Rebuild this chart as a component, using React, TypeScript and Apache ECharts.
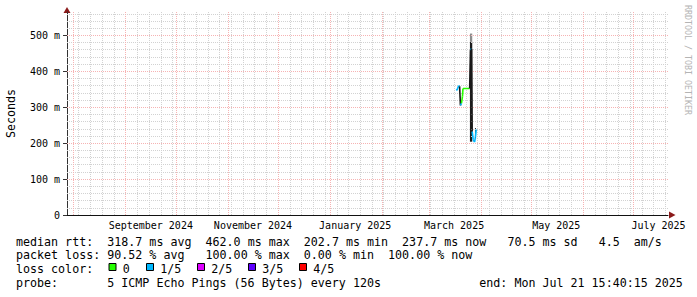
import React, { useEffect, useRef } from 'react';
import * as echarts from 'echarts';

// ---- time range ----
const START = '2024-07-28T00:00:00Z';
const END = '2025-07-21T15:40:15Z';

// ---- axis / grid data ----
const monthStarts = [
  '2024-08-01', '2024-09-01', '2024-10-01', '2024-11-01', '2024-12-01', '2025-01-01',
  '2025-02-01', '2025-03-01', '2025-04-01', '2025-05-01', '2025-06-01', '2025-07-01',
];
const monthLabelDates = ['2024-09-16', '2024-11-16', '2025-01-16', '2025-03-16', '2025-05-16', '2025-07-16'];
const monthLabels = ['September 2024', 'November 2024', 'January 2025', 'March 2025', 'May 2025', 'July 2025'];
const firstWeekLine = '2024-08-04';
const yTicks = [0, 100, 200, 300, 400, 500];
const yMax = 565;
const yMinorStep = 20;

// ---- median rtt (ms), with loss class of each segment (-1 = dark) ----
const medianTimes = [
  '2025-03-17T10:00:00Z', '2025-03-17T17:00:00Z', '2025-03-18T17:00:00Z', '2025-03-19T07:00:00Z',
  '2025-03-19T19:00:00Z', '2025-03-20T10:00:00Z', '2025-03-21T00:00:00Z', '2025-03-21T07:00:00Z',
  '2025-03-25T07:00:00Z', '2025-03-25T19:00:00Z', '2025-03-26T10:00:00Z', '2025-03-26T19:00:00Z',
  '2025-03-27T10:00:00Z', '2025-03-28T05:00:00Z', '2025-03-28T17:00:00Z', '2025-03-29T05:00:00Z',
];
const medianValues = [350, 347, 360, 358, 305, 311, 330, 352, 352, 460, 462, 232, 210, 203, 215, 238];
const segmentLoss = [1, 1, 1, -1, 1, 0, 0, 0, -1, 1, -1, 1, 1, 1, 1];

// ---- smoke (spread of pings) ----
const smokeStart = ['2025-03-25T11:00:00Z', '2025-03-25T11:00:00Z', '2025-03-28T11:00:00Z'];
const smokeEnd = ['2025-03-26T20:00:00Z', '2025-03-26T20:00:00Z', '2025-03-29T01:00:00Z'];
const smokeLow = [204, 482, 214];
const smokeHigh = [482, 505, 242];
const smokeShade = ['#1c1c1c', '#8c8c8c', '#2a2a2a'];

// ---- legend ----
const lossColors = ['#26ff00', '#00b8ff', '#dd00ff', '#5e00ff', '#ff0000'];
const lossLabels = ['0', '1/5', '2/5', '3/5', '4/5'];
const statLines: [number, string][][] = [
  [[0, 'median rtt:'], [13, '318.7 ms avg'], [27, '462.0 ms max'], [41, '202.7 ms min'], [55, '237.7 ms now'], [70, '70.5 ms sd'], [83, '4.5'], [88, 'am/s']],
  [[0, 'packet loss:'], [13, '90.52 % avg'], [27, '100.00 % max'], [41, '0.00 % min'], [53, '100.00 % now']],
  [[0, 'loss color:']],
  [[0, 'probe:'], [13, '5 ICMP Echo Pings (56 Bytes) every 120s'], [66, 'end: Mon Jul 21 15:40:15 2025']],
];
const yAxisName = 'Seconds';
const watermark = 'RRDTOOL / TOBI OETIKER';

const MONO = '"DejaVu Sans Mono", monospace';
const ms = (s: string) => new Date(s.length <= 10 ? s + 'T00:00:00Z' : s).getTime();

export default function App() {
  const ref = useRef<HTMLDivElement>(null);
  useEffect(() => {
    document.body.style.margin = '0';
    if (!ref.current) return;
    const chart = echarts.init(ref.current, undefined, { renderer: 'svg' });

    const t0 = ms(START);
    const t1 = ms(END);
    const weekLines: number[] = [];
    for (let t = ms(firstWeekLine); t < t1; t += 7 * 86400000) weekLines.push(t);
    const monthLines = monthStarts.map(ms);
    const minorWeeks = weekLines.filter((t) => !monthLines.includes(t));
    const yMinor: number[] = [];
    for (let v = yMinorStep; v < yMax; v += yMinorStep) if (v % 100 !== 0) yMinor.push(v);
    const labelTimes = monthLabelDates.map(ms);
    const labelMap = new Map<number, string>();
    labelTimes.forEach((t, i) => labelMap.set(t, monthLabels[i]));

    const minorStyle = { color: '#d2d2d2', width: 1, type: [1, 1] as number[] };
    const majorStyle = { color: '#f6b3b3', width: 1, type: [1, 1] as number[] };

    const gridData: any[] = [
      ...yMinor.map((v) => ({ yAxis: v, lineStyle: minorStyle })),
      ...minorWeeks.map((t) => ({ xAxis: t, lineStyle: minorStyle })),
      ...yTicks.filter((v) => v > 0).map((v) => ({ yAxis: v, lineStyle: majorStyle })),
      ...monthLines.map((t) => ({ xAxis: t, lineStyle: majorStyle })),
    ];

    const medianSeries: any[] = [];
    for (let i = 0; i < segmentLoss.length; i++) {
      const loss = segmentLoss[i];
      medianSeries.push({
        type: 'line',
        data: [
          [ms(medianTimes[i]), medianValues[i]],
          [ms(medianTimes[i + 1]), medianValues[i + 1]],
        ],
        symbol: 'none',
        silent: true,
        lineStyle: { color: loss < 0 ? '#1a1a1a' : lossColors[loss], width: 1.6 },
        z: 5,
      });
    }

    const smokeData = smokeStart.map((s, i) => [ms(s), ms(smokeEnd[i]), smokeLow[i], smokeHigh[i]]);

    const graphics: any[] = [];
    // arrows
    graphics.push({
      type: 'polygon',
      shape: { points: [[63.5, 13], [70.5, 13], [67, 7]] },
      style: { fill: '#8b1a1a' },
    });
    graphics.push({
      type: 'polygon',
      shape: { points: [[669, 211.5], [669, 218.5], [675.5, 215]] },
      style: { fill: '#8b1a1a' },
    });
    // y axis title
    graphics.push({
      type: 'text',
      x: 10.5,
      y: 113.5,
      rotation: Math.PI / 2,
      style: { text: yAxisName, fill: '#000', fontFamily: MONO, fontSize: 11.66, verticalAlign: 'middle', align: 'center' },
    });
    // bottom texts
    const rowY = [241.5, 255.3, 269.3, 283.3];
    statLines.forEach((line, r) => {
      line.forEach(([col, text]) => {
        graphics.push({
          type: 'text',
          x: 16 + col * 7.02,
          y: rowY[r],
          style: { text, fill: '#000', fontFamily: MONO, fontSize: 11.66, verticalAlign: 'middle', align: 'left' },
        });
      });
    });
    // loss color boxes
    const boxX = [108.5, 146, 197, 248, 299];
    lossColors.forEach((c, i) => {
      graphics.push({
        type: 'rect',
        shape: { x: boxX[i] + 0.5, y: 263.5, width: 7, height: 7 },
        style: { fill: c, stroke: '#000', lineWidth: 1 },
      });
      graphics.push({
        type: 'text',
        x: boxX[i] + 14.3,
        y: rowY[2],
        style: { text: lossLabels[i], fill: '#000', fontFamily: MONO, fontSize: 11.66, verticalAlign: 'middle', align: 'left' },
      });
    });
    // watermark
    graphics.push({
      type: 'text',
      x: 687.5,
      y: 5,
      rotation: -Math.PI / 2,
      style: { text: watermark, fill: '#b4b4b4', fontFamily: MONO, fontSize: 8.3, verticalAlign: 'middle', align: 'left' },
    });

    chart.setOption({
      animation: false,
      backgroundColor: '#ffffff',
      grid: { left: 67, right: 29, top: 12, bottom: 82 },
      xAxis: {
        type: 'value',
        min: t0,
        max: t1,
        axisLine: { show: true, lineStyle: { color: '#111', width: 1 } },
        axisTick: { show: false },
        splitLine: { show: false },
        axisLabel: {
          customValues: labelTimes,
          formatter: (v: number) => labelMap.get(v) ?? '',
          fontFamily: MONO,
          fontSize: 10,
          color: '#000',
          margin: 5,
        },
      },
      yAxis: {
        type: 'value',
        min: 0,
        max: yMax,
        axisLine: { show: true, lineStyle: { color: '#333', width: 1 } },
        axisTick: { show: true, customValues: yTicks, length: 4, lineStyle: { color: '#333' } },
        splitLine: { show: false },
        axisLabel: {
          customValues: yTicks,
          formatter: (v: number) => (v === 0 ? '0' : `${v} m`),
          fontFamily: MONO,
          fontSize: 10,
          color: '#000',
          margin: 7,
        },
      },
      graphic: graphics,
      series: [
        {
          type: 'line',
          data: [],
          silent: true,
          z: 1,
          markLine: {
            silent: true,
            symbol: ['none', 'none'],
            label: { show: false },
            emphasis: { disabled: true },
            animation: false,
            data: gridData,
          },
        },
        {
          type: 'custom',
          silent: true,
          z: 3,
          data: smokeData,
          encode: { x: [0, 1], y: [2, 3] },
          renderItem: (params: any, api: any) => {
            const a = api.coord([api.value(0), api.value(3)]);
            const b = api.coord([api.value(1), api.value(2)]);
            return {
              type: 'rect',
              shape: { x: a[0], y: a[1], width: b[0] - a[0], height: b[1] - a[1] },
              style: { fill: smokeShade[params.dataIndex] },
            };
          },
        },
        ...medianSeries,
      ],
    });
    return () => chart.dispose();
  }, []);
  return <div ref={ref} style={{ width: 697, height: 297 }} />;
}
